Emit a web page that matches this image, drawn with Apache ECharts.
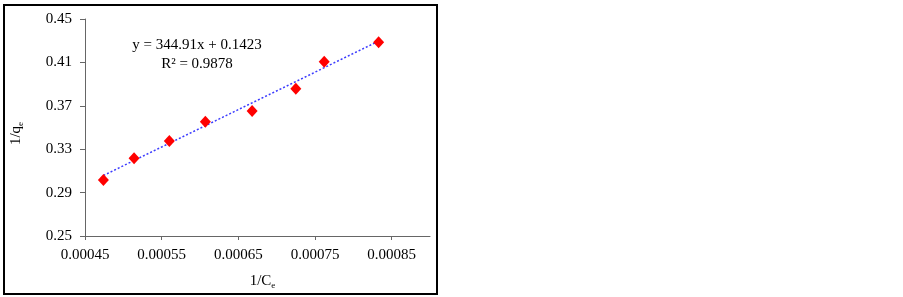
<!DOCTYPE html>
<html>
<head>
<meta charset="utf-8">
<script src="https://cdn.jsdelivr.net/npm/echarts@6/dist/echarts.min.js"></script>
<style>html,body{margin:0;padding:0;background:#fff;}#c{width:903px;height:297px;}</style>
</head>
<body>
<div id="c"></div>
<script>
// Data
const invCe = [0.000474, 0.000514, 0.000560, 0.000607, 0.000668, 0.000725, 0.000762, 0.000833];
const invQe = [0.3016, 0.3216, 0.3376, 0.3554, 0.3652, 0.3858, 0.4107, 0.4285];
const trendSlope = 344.91;
const trendIntercept = 0.1423;
const xTicks = [0.00045, 0.00055, 0.00065, 0.00075, 0.00085];
const yTicks = [0.25, 0.29, 0.33, 0.37, 0.41, 0.45];
const eqText = 'y = 344.91x + 0.1423';
const r2Text = 'R² = 0.9878';

const pts = invCe.map((x, i) => [x, invQe[i]]);
const xa = invCe[0], xb = invCe[invCe.length - 1];
const trend = [[xa, trendSlope * xa + trendIntercept], [xb, trendSlope * xb + trendIntercept]];

const FONT = '"Liberation Serif", "Times New Roman", serif';
const chart = echarts.init(document.getElementById('c'));
chart.setOption({
  animation: false,
  backgroundColor: '#fff',
  grid: { left: 85, right: 473, top: 19, bottom: 61 },
  xAxis: {
    type: 'value', min: 0.00045, max: 0.0009,
    name: '1/C{sub|e}', nameLocation: 'middle', nameGap: 36,
    nameTextStyle: { fontFamily: FONT, fontSize: 15, color: '#000', padding: [0, 0, 0, 10],
      rich: { sub: { fontFamily: FONT, fontSize: 9, color: '#000', padding: [9, 0, 0, 0] } } },
    axisLine: { show: true, lineStyle: { color: '#666', width: 1 } },
    axisTick: { show: true, length: 4, inside: false, customValues: xTicks, lineStyle: { color: '#666' } },
    axisLabel: { customValues: xTicks, margin: 12, fontFamily: FONT, fontSize: 15, color: '#000',
      formatter: v => v.toFixed(5) },
    splitLine: { show: false }
  },
  yAxis: {
    type: 'value', min: 0.25, max: 0.45,
    name: '1/q{sub|e}', nameLocation: 'middle', nameGap: 60, nameRotate: 90,
    nameTextStyle: { fontFamily: FONT, fontSize: 15, color: '#000', padding: [0, 12, 0, 0],
      rich: { sub: { fontFamily: FONT, fontSize: 9, color: '#000', padding: [9, 0, 0, 0] } } },
    axisLine: { show: true, lineStyle: { color: '#666', width: 1 } },
    axisTick: { show: true, length: 5, inside: false, customValues: yTicks, lineStyle: { color: '#666' } },
    axisLabel: { customValues: yTicks, margin: 13, fontFamily: FONT, fontSize: 15, color: '#000',
      formatter: v => v.toFixed(2) },
    splitLine: { show: false }
  },
  series: [
    {
      type: 'line', data: trend, symbol: 'none', silent: true, z: 1,
      lineStyle: { color: '#3b3bff', width: 1.5, type: [2, 2] }
    },
    {
      type: 'scatter', data: pts, symbol: 'diamond', symbolSize: [11, 12], z: 2,
      itemStyle: { color: '#ff0000', opacity: 1 }
    }
  ],
  graphic: [
    { type: 'rect', shape: { x: 4, y: 5, width: 433, height: 289 },
      style: { fill: 'none', stroke: '#000', lineWidth: 2 }, z: 100, silent: true },
    { type: 'text', x: 197, y: 45, style: { text: eqText, font: '15px ' + FONT, fill: '#000', textAlign: 'center', textVerticalAlign: 'middle' } },
    { type: 'text', x: 197, y: 64, style: { text: r2Text, font: '15px ' + FONT, fill: '#000', textAlign: 'center', textVerticalAlign: 'middle' } }
  ]
});
</script>
</body>
</html>
